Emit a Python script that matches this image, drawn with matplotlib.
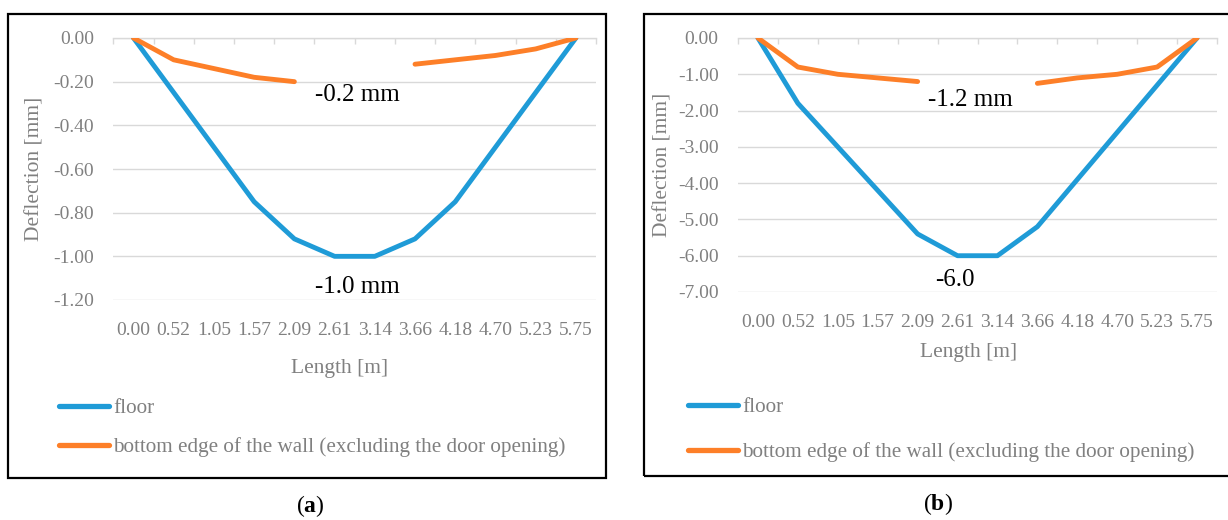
import numpy as np
import matplotlib
matplotlib.use("Agg")
import matplotlib.pyplot as plt
from matplotlib.patches import Rectangle
from matplotlib.ticker import FixedLocator, FuncFormatter

plt.rcParams['font.family'] = ['Liberation Serif', 'DejaVu Serif']
plt.rcParams['axes.unicode_minus'] = False
plt.rcParams['mathtext.fontset'] = 'custom'
plt.rcParams['mathtext.rm'] = 'Liberation Serif'
plt.rcParams['mathtext.bf'] = 'Liberation Serif:bold'

# Positions along the wall (category labels)
lengths = ["0.00", "0.52", "1.05", "1.57", "2.09", "2.61",
           "3.14", "3.66", "4.18", "4.70", "5.23", "5.75"]

# (a) deflections [mm]
floor_a = [0.00, -0.25, -0.50, -0.75, -0.92, -1.00,
           -1.00, -0.92, -0.75, -0.50, -0.25, 0.00]
wall_a = [0.00, -0.10, -0.14, -0.18, -0.20, np.nan,
          np.nan, -0.12, -0.10, -0.08, -0.05, 0.00]

# (b) deflections [mm]
floor_b = [0.00, -1.80, -3.00, -4.20, -5.40, -6.00,
           -6.00, -5.20, -3.90, -2.60, -1.30, 0.00]
wall_b = [0.00, -0.80, -1.00, -1.10, -1.20, np.nan,
          np.nan, -1.25, -1.10, -1.00, -0.80, 0.00]

yticks_a = [0.0, -0.2, -0.4, -0.6, -0.8, -1.0, -1.2]
yticks_b = [0.0, -1.0, -2.0, -3.0, -4.0, -5.0, -6.0, -7.0]

labels_a = [("-0.2 mm", 5.56, -0.261), ("-1.0 mm", 5.56, -1.14)]
labels_b = [("-1.2 mm", 5.32, -1.71), ("-6.0", 4.93, -6.67)]

BLUE = "#1f9bd7"
ORANGE = "#fd7f28"
GRID = "#d9d9d9"
TXT = "#808080"

W, H = 1228, 520
fig = plt.figure(figsize=(W / 100, H / 100), dpi=100)


def px_axes(l, t, r, b):
    return fig.add_axes([l / W, 1 - b / H, (r - l) / W, (b - t) / H])


def panel(ax, floor, wall, yticks, notes, ylab_xy, xlab_xy):
    x = np.arange(len(lengths))
    ax.plot(x, floor, color=BLUE, lw=3.5, solid_capstyle='round',
            solid_joinstyle='round', label="floor", zorder=3)
    ax.plot(x, wall, color=ORANGE, lw=3.5, solid_capstyle='round',
            solid_joinstyle='round',
            label="bottom edge of the wall (excluding the door opening)",
            zorder=4)
    ax.set_xlim(-0.5, len(lengths) - 0.5)
    ax.set_ylim(min(yticks), 0)
    ax.set_yticks(yticks)
    ax.yaxis.set_major_formatter(FuncFormatter(lambda v, p: f"{v:.2f}"))
    ax.set_xticks(x)
    ax.set_xticklabels(lengths)
    ax.xaxis.set_minor_locator(FixedLocator(np.arange(-0.5, len(lengths), 1.0)))
    ax.grid(axis='y', color=GRID, lw=1.0)
    ax.set_axisbelow(True)
    for s in ('left', 'right', 'bottom'):
        ax.spines[s].set_visible(False)
    ax.spines['top'].set_color(GRID)
    ax.spines['top'].set_linewidth(1.0)
    ax.tick_params(axis='y', length=0, pad=14, labelsize=14, labelcolor=TXT)
    ax.tick_params(axis='x', which='major', length=0, pad=16, labelsize=14,
                   labelcolor=TXT)
    ax.tick_params(axis='x', which='minor', top=True, bottom=False,
                   direction='in', length=4, width=1.0, color=GRID)
    ax.set_ylabel("Deflection [mm]", fontsize=15.5, color=TXT)
    ax.yaxis.set_label_coords(*ylab_xy)
    ax.yaxis.label.set_va('center')
    ax.set_xlabel("Length [m]", fontsize=15.5, color=TXT)
    ax.xaxis.set_label_coords(*xlab_xy)
    ax.xaxis.label.set_va('center')
    for text, tx, ty in notes:
        ax.text(tx, ty, text, fontsize=18, color='black',
                ha='center', va='center', zorder=5)


ax_a = px_axes(113.4, 38, 596, 300)
panel(ax_a, floor_a, wall_a, yticks_a, labels_a, (-0.1625, 0.5), (0.4695, -0.26))

ax_b = px_axes(738, 38, 1217, 292)
panel(ax_b, floor_b, wall_b, yticks_b, labels_b, (-0.157, 0.5), (0.482, -0.24))

for ax, (lx, ly), spacing in ((ax_a, (59, 428), 0.9), (ax_b, (688, 430), 1.18)):
    leg = ax.legend(loc='center left', bbox_to_anchor=(lx / W, 1 - ly / H),
                    bbox_transform=fig.transFigure, frameon=False,
                    fontsize=15.2, handlelength=2.35, handletextpad=0.2,
                    labelspacing=spacing, borderpad=0, borderaxespad=0)
    for t in leg.get_texts():
        t.set_color(TXT)
    for h in leg.get_lines():
        h.set_linewidth(3.8)
        h.set_solid_capstyle('round')

# Panel frames
fig.add_artist(Rectangle((8 / W, 1 - 478 / H), (606 - 8) / W, (478 - 14) / H,
                         transform=fig.transFigure, fill=False,
                         ec='black', lw=1.6))
fig.add_artist(Rectangle((644 / W, 1 - 476 / H), (1240 - 644) / W, (476 - 14) / H,
                         transform=fig.transFigure, fill=False,
                         ec='black', lw=1.6))

fig.text(310 / W, 1 - 506 / H, r"($\mathbf{a}$)", fontsize=17,
         ha='center', va='center')
fig.text(938 / W, 1 - 504 / H, r"($\mathbf{b}$)", fontsize=17,
         ha='center', va='center')

fig.savefig("out.png", dpi=100)
